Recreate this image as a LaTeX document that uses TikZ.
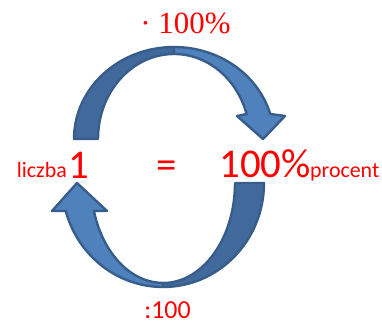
\documentclass[tikz,border=0pt]{standalone}
\usepackage{fontspec}
\newfontfamily\carl{Carlito}
\newfontfamily\lserif{Liberation Serif}
\definecolor{frontc}{HTML}{4F81BD}
\definecolor{backc}{HTML}{41699C}
\definecolor{edgec}{HTML}{385D8A}
\definecolor{txtred}{HTML}{FF0000}
\tikzset{
  arrowpart/.style={draw=edgec, line width=2.4bp, line join=round},
  bigtxt/.style={text=txtred, inner sep=0pt, font=\carl\fontsize{41}{41}\selectfont},
  smalltxt/.style={text=txtred, inner sep=0pt, font=\carl\fontsize{22}{22}\selectfont},
}
\begin{document}
\begin{tikzpicture}[x=1bp,y=1bp]
\useasboundingbox (0,0) rectangle (382,323);
% top curved arrow: back band
\path[arrowpart, fill=backc]
  (74,184) arc[start angle=180, end angle=90, x radius=100bp, y radius=92bp]
  -- (174,269) arc[start angle=90, end angle=180, x radius=76bp, y radius=85bp]
  -- cycle;
% top curved arrow: front band with head
\path[arrowpart, fill=frontc]
  (174,276) arc[start angle=90, end angle=15.8, x radius=100bp, y radius=92bp]
  -- (285,207) -- (263,184) -- (237,207) -- (246.6,209)
  arc[start angle=17.1, end angle=90, x radius=76bp, y radius=85bp]
  -- cycle;
% bottom curved arrow: back band
\path[arrowpart, fill=backc]
  (264,140) arc[start angle=0, end angle=-90, x radius=101bp, y radius=104bp]
  -- (163,40) arc[start angle=-90, end angle=0, x radius=72bp, y radius=100bp]
  -- cycle;
% bottom curved arrow: front band with head
\path[arrowpart, fill=frontc]
  (163,36) arc[start angle=270, end angle=195.6, x radius=101bp, y radius=104bp]
  -- (52,112) -- (77,140) -- (107,112) -- (93.9,112)
  arc[start angle=196.3, end angle=270, x radius=72bp, y radius=100bp]
  -- cycle;
% texts
\node[text=txtred, inner sep=0pt, anchor=base, font=\lserif\fontsize{31}{31}\selectfont] (mul) at (185.5,290) {\textperiodcentered\ 100\%};
\node[bigtxt, anchor=base] (one) at (78.5,145) {1};
\node[smalltxt, anchor=base east] (liczba) at (67,145.5) {liczba};
\node[bigtxt, anchor=base] (eq) at (166.5,145) {=};
\node[bigtxt, anchor=base] (hundred) at (265,145.5) {100\%};
\node[smalltxt, anchor=base west] (procent) at (310,145.5) {procent};
\node[text=txtred, inner sep=0pt, anchor=base, font=\carl\fontsize{26}{26}\selectfont] (div) at (167.5,5) {:100};
\end{tikzpicture}
\end{document}
